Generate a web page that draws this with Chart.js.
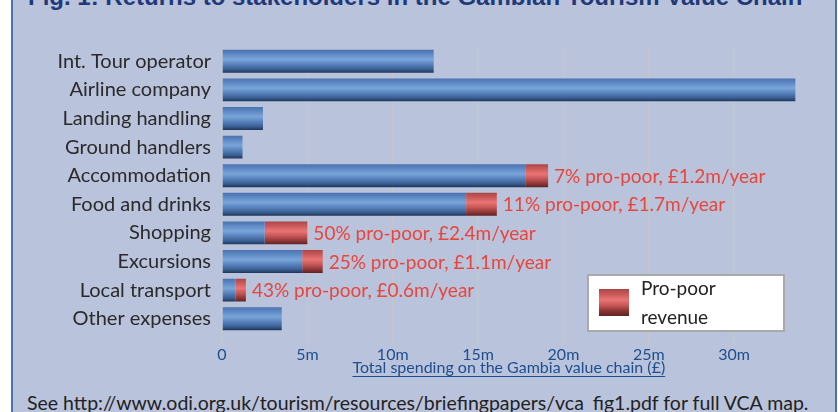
<!DOCTYPE html>
<html><head><meta charset="utf-8">
<script src="https://cdn.jsdelivr.net/npm/chart.js@4"></script>
<style>
html,body{margin:0;padding:0;background:#fff;width:838px;height:412px;overflow:hidden;position:relative;font-family:Lato,"Open Sans",sans-serif;}
#frame{position:absolute;left:11px;top:0;width:822px;height:412px;background:#BAC3DC;border-left:2px solid #4A72AE;border-right:2px solid #4A72AE;}
#title{position:absolute;left:28px;top:-17px;line-height:24px;font:bold 24px "Liberation Sans",Arial,sans-serif;color:#1F3A78;white-space:nowrap;}
#wrap{position:absolute;left:0;top:0;width:838px;height:385px;}
#legend{position:absolute;left:587px;top:274px;width:194px;height:54px;background:#fff;border:2px solid #A9A9A9;}
#swatch{position:absolute;left:10px;top:13px;width:30px;height:27px;}
#legtext{position:absolute;left:52px;top:-3px;font:19px Lato,sans-serif;line-height:29px;color:#222;}
#note{position:absolute;left:27px;top:391px;font:19.5px Lato,sans-serif;color:#222;white-space:nowrap;line-height:24px;}
</style>
</head><body>
<div id="frame"></div>
<div id="title">Fig. 1: Returns to stakeholders in the Gambian Tourism Value Chain</div>
<div id="wrap"><canvas id="c" width="838" height="385"></canvas></div>
<div id="legend"><div id="swatch"></div><div id="legtext"></div></div>
<div id="note">See http://www.odi.org.uk/tourism/resources/briefingpapers/vca_fig1.pdf for full VCA map.</div>
<script>
const categories = ['Int. Tour operator','Airline company','Landing handling','Ground handlers','Accommodation','Food and drinks','Shopping','Excursions','Local transport','Other expenses'];
const otherSpending = [12.4, 33.6, 2.4, 1.2, 17.8, 14.3, 2.5, 4.7, 0.8, 3.5];
const proPoorRevenue = [0, 0, 0, 0, 1.3, 1.8, 2.5, 1.2, 0.6, 0];
const proPoorLabels = ['', '', '', '', '7% pro-poor, £1.2m/year', '11% pro-poor, £1.7m/year', '50% pro-poor, £2.4m/year', '25% pro-poor, £1.1m/year', '43% pro-poor, £0.6m/year', ''];
const xTicks = [0, 5, 10, 15, 20, 25, 30];
const xAxisTitle = 'Total spending on the Gambia value chain (£)';
const legendLabel = 'Pro-poor revenue';

const blueStops = ['#4A72AE','#5F8AC6','#7AA5DA','#5A84BE','#3A5F94','#1F3558'];
const redStops  = ['#A94646','#CC5A5A','#EA7474','#C85858','#8E3636','#5E2222'];

function grad(ctx, stops){
  const chart = ctx.chart;
  if(!chart.chartArea) return stops[2];
  const ys = chart.scales.y;
  const y = ys.getPixelForValue(ctx.dataIndex);
  const h = (ys.height / categories.length) * 0.8;
  const g = chart.ctx.createLinearGradient(0, y - h/2, 0, y + h/2);
  const pos = [0, 0.2, 0.42, 0.62, 0.85, 1];
  stops.forEach((s,i)=>g.addColorStop(pos[i], s));
  return g;
}

document.getElementById('swatch').style.background = 'linear-gradient(to bottom,' + redStops.join(',') + ')';
document.getElementById('legtext').innerHTML = legendLabel.replace(' ', '<br>');

const labelPlugin = {
  id: 'labels',
  afterDatasetsDraw(chart){
    const meta = chart.getDatasetMeta(1);
    const c = chart.ctx;
    c.save();
    c.font = '19px Lato, sans-serif';
    c.fillStyle = '#E8453C';
    c.textBaseline = 'middle';
    c.textAlign = 'left';
    proPoorLabels.forEach((t,i)=>{
      if(!t) return;
      const el = meta.data[i];
      c.fillText(t, el.x + 6, el.y + 1);
    });
    c.restore();
  },
  afterDraw(chart){
    const xs = chart.scales.x;
    const c = chart.ctx;
    c.save();
    c.font = '16px Lato, sans-serif';
    const w = c.measureText(xAxisTitle).width;
    const cx = (xs.left + xs.right) / 2;
    c.strokeStyle = '#1F4E8C';
    c.lineWidth = 1;
    c.beginPath();
    c.moveTo(cx - w/2, 376.5);
    c.lineTo(cx + w/2, 376.5);
    c.stroke();
    c.restore();
  }
};

new Chart(document.getElementById('c'), {
  type: 'bar',
  data: {
    labels: categories,
    datasets: [
      { label: 'Other spending', data: otherSpending, backgroundColor: ctx => grad(ctx, blueStops), stack: 's' },
      { label: legendLabel, data: proPoorRevenue, backgroundColor: ctx => grad(ctx, redStops), stack: 's' }
    ]
  },
  options: {
    indexAxis: 'y',
    responsive: false,
    animation: false,
    devicePixelRatio: 1,
    layout: { padding: { left: 0, right: 42.4, top: 47, bottom: 0 } },
    datasets: { bar: { categoryPercentage: 1, barPercentage: 0.8 } },
    plugins: { legend: { display: false }, tooltip: { enabled: false } },
    scales: {
      y: {
        stacked: true,
        grid: { display: false, drawTicks: false },
        border: { display: false },
        ticks: { color: '#2A2A2A', font: { family: 'Lato', size: 20 }, padding: 11 },
        afterFit(s){ s.width = 222; }
      },
      x: {
        stacked: true,
        min: 0, max: 33.6,
        grid: { color: '#C6C6C6', lineWidth: 1.5, tickLength: 12 },
        border: { display: false },
        afterBuildTicks(s){ s.ticks = xTicks.map(v => ({ value: v })); },
        ticks: { color: '#1F4E8C', font: { family: 'Lato', size: 16 }, padding: 0,
                 callback: v => v === 0 ? '0' : v + 'm' },
        title: { display: true, text: xAxisTitle, color: '#1F4E8C', font: { family: 'Lato', size: 16 }, padding: { top: 0, bottom: 8 } },
        afterFit(s){ s.height = 52; }
      }
    }
  },
  plugins: [labelPlugin]
});
</script>
</body></html>
